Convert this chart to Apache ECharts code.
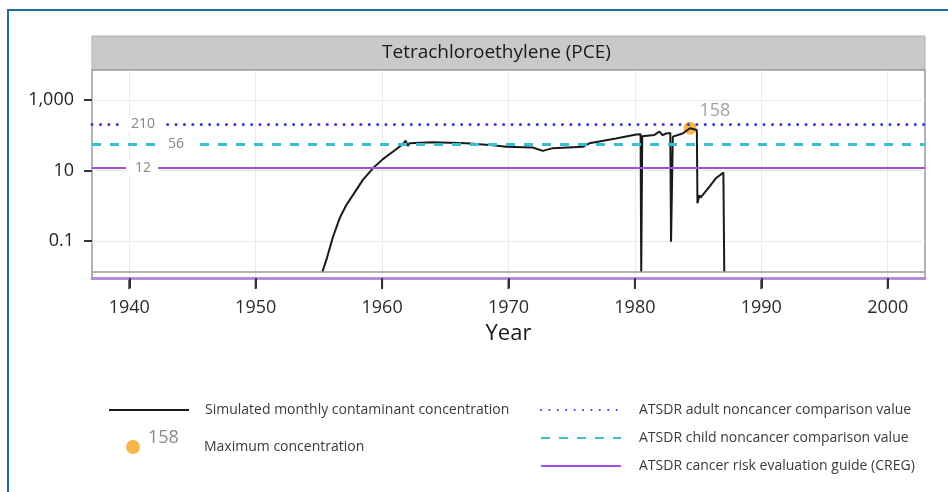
<!DOCTYPE html>
<html>
<head>
<meta charset="utf-8">
<script src="https://cdn.jsdelivr.net/npm/echarts@6/dist/echarts.min.js"></script>
<style>
  html, body { margin: 0; padding: 0; background: #fff; }
  #chart { width: 948px; height: 492px; }
</style>
</head>
<body>
<div id="chart"></div>
<script>
// simulated monthly PCE concentration (values at the panel floor are clipped)
const years = [1955.27, 1955.59, 1956.11, 1956.64, 1957.17, 1957.69, 1958.48, 1959.27, 1960.06, 1960.85,
  1961.64, 1961.86, 1962.04, 1962.17, 1964.0, 1966.66, 1968.76, 1969.82, 1971.92, 1972.71,
  1973.5, 1975.87, 1976.4, 1978.5, 1980.1, 1980.45, 1980.5, 1980.58, 1981.54, 1981.94,
  1982.2, 1982.47, 1982.8, 1982.86, 1983.0, 1983.78, 1984.36, 1984.9, 1984.95, 1985.1,
  1985.2, 1985.9, 1986.4, 1987.0, 1987.07]
const conc = [0.0132, 0.029, 0.13, 0.44, 1.05, 2.0, 5.4, 11.5, 21, 34,
  56, 70, 50, 59, 63, 59, 52, 47, 45, 36,
  43, 47, 59, 81, 105, 107, 0.0132, 93, 102, 126,
  100, 112, 115, 0.095, 91, 112, 158, 141, 1.17, 2.0,
  1.7, 3.5, 6.0, 8.7, 0.0132]
const maxPoint = [1984.36, 158]
const refNames = ['ATSDR adult noncancer comparison value', 'ATSDR child noncancer comparison value', 'ATSDR cancer risk evaluation guide (CREG)']
const refValues = [210, 56, 12]
const panelFloor = 0.0132
const xTicks = [1940, 1950, 1960, 1970, 1980, 1990, 2000]
const yTicks = [0.1, 10, 1000]

const font = 'Open Sans'
const refColors = ['#3d3dd6', '#3fbdd0', '#a24fe0']
const refDash = [[0.1, 8.3], [9, 9], 'solid']
const refCap = ['round', 'butt', 'butt']
// label gap placement (distance from axis start, padding around text)
const refLabelDist = [-74, -108, -66]
const refLabelPad = [[0, 11, 0, 7], [0, 16, 0, 13], [0, 7, 0, 9]]

const lg = v => Math.log10(v)
const yTickLogs = yTicks.map(lg)
const noSymbol = {color: 'rgba(0,0,0,0)', borderColor: 'rgba(0,0,0,0)', borderWidth: 0}
const xMin = 1937.05
const xMax = 2002.95
const yMin = -2.05
const yMax = 3.85

const chart = echarts.init(document.getElementById('chart'))

const refSeries = refValues.map((v, i) => ({
  name: refNames[i],
  type: 'line',
  data: [],
  symbol: 'none',
  lineStyle: {color: refColors[i], width: i === 2 ? 2 : 3, type: refDash[i], cap: refCap[i]},
  itemStyle: {color: refColors[i]},
  markLine: {
    silent: true,
    symbol: 'none',
    animation: false,
    lineStyle: {color: refColors[i], width: i === 2 ? 2 : 3, type: refDash[i], cap: refCap[i]},
    label: {
      show: true,
      position: 'start',
      distance: [refLabelDist[i], 0],
      formatter: String(v),
      color: '#858585',
      fontFamily: font,
      fontSize: 14,
      backgroundColor: '#fff',
      padding: refLabelPad[i]
    },
    data: [{yAxis: lg(v)}]
  }
}))

const option = {
  animation: false,
  title: {
    text: 'Tetrachloroethylene (PCE)',
    left: 382,
    top: 42,
    padding: 0,
    textStyle: {fontFamily: font, fontSize: 19, fontWeight: 'normal', color: '#1a1a1a', lineHeight: 22}
  },
  graphic: [
    {type: 'rect', z: -1, shape: {x: 8, y: 10, width: 980, height: 520}, style: {fill: 'none', stroke: '#1f6b9c', lineWidth: 2}},
    {type: 'rect', z: -1, shape: {x: 92, y: 36, width: 833, height: 34}, style: {fill: '#c9c9c9', stroke: '#b0b0b0', lineWidth: 1}}
  ],
  grid: {left: 92, right: 23, top: 70, bottom: 214, show: true, borderColor: '#9a9a9a', borderWidth: 1.5, backgroundColor: '#fff'},
  legend: [
    {
      data: ['Simulated monthly contaminant concentration'],
      left: 108, top: 403, padding: 0, itemWidth: 80, itemHeight: 14, selectedMode: false,
      itemStyle: noSymbol,
      formatter: n => '{t|' + n + '}',
      textStyle: {rich: {t: {fontFamily: font, fontSize: 14, color: '#3a3a3a', lineHeight: 20, padding: [0, 0, 0, 11]}}}
    },
    {
      data: ['Maximum concentration'],
      left: 126, top: 429, padding: 0, itemWidth: 14, itemHeight: 14, selectedMode: false,
      formatter: n => '{n|158}{t|' + n + '}',
      textStyle: {rich: {
        n: {fontFamily: font, fontSize: 18, color: '#888', lineHeight: 22, width: 56, padding: [0, 0, 18, 3]},
        t: {fontFamily: font, fontSize: 14, color: '#3a3a3a', lineHeight: 20, verticalAlign: 'middle'}
      }}
    },
    {
      data: refNames,
      orient: 'vertical',
      left: 540, top: 403, padding: 0, itemWidth: 80, itemHeight: 14, itemGap: 14, selectedMode: false,
      itemStyle: noSymbol,
      formatter: n => '{t|' + n + '}',
      textStyle: {rich: {t: {fontFamily: font, fontSize: 14, color: '#3a3a3a', lineHeight: 20, padding: [0, 0, 0, 13]}}}
    }
  ],
  xAxis: {
    type: 'value',
    min: xMin,
    max: xMax,
    name: 'Year',
    nameLocation: 'middle',
    nameGap: 45,
    nameTextStyle: {fontFamily: font, fontSize: 22, color: '#1a1a1a'},
    axisLine: {show: true, onZero: false, lineStyle: {color: '#b48fd9', width: 3}},
    axisTick: {show: true, customValues: xTicks, length: 10, lineStyle: {color: '#333', width: 2}},
    axisLabel: {customValues: xTicks, margin: 21, fontFamily: font, fontSize: 18, color: '#2b2b2b', formatter: v => String(v)},
    splitLine: {show: true, lineStyle: {color: '#ebebeb', width: 1}}
  },
  yAxis: {
    type: 'value',
    min: yMin,
    max: yMax,
    axisLine: {show: false, onZero: false},
    axisTick: {show: true, customValues: yTickLogs, length: 8, lineStyle: {color: '#333', width: 2}},
    axisLabel: {
      customValues: yTickLogs,
      margin: 18,
      fontFamily: font,
      fontSize: 18,
      color: '#222',
      formatter: v => {
        const t = yTicks.find(t => Math.abs(lg(t) - v) < 1e-6)
        return t === undefined ? '' : t.toLocaleString('en-US')
      }
    },
    splitLine: {show: true, lineStyle: {color: '#ebebeb', width: 1}}
  },
  series: [
    ...refSeries,
    {
      name: 'Simulated monthly contaminant concentration',
      type: 'line',
      symbol: 'none',
      data: years.map((y, i) => [y, lg(conc[i])]),
      lineStyle: {color: '#1a1a1a', width: 2},
      itemStyle: {color: '#333'},
      // bottom edge of the plotting panel
      markLine: {
        silent: true,
        symbol: 'none',
        animation: false,
        label: {show: false},
        lineStyle: {color: '#9a9a9a', width: 1.5, type: 'solid'},
        data: [{yAxis: lg(panelFloor)}]
      }
    },
    {
      name: 'Maximum concentration',
      type: 'scatter',
      symbol: 'circle',
      symbolSize: 13,
      itemStyle: {color: '#f6a21c'},
      data: [[maxPoint[0], lg(maxPoint[1])]],
      label: {
        show: true,
        formatter: String(maxPoint[1]),
        position: [16, -11],
        align: 'left',
        verticalAlign: 'middle',
        fontFamily: font,
        fontSize: 18,
        color: '#888'
      }
    }
  ]
}

chart.setOption(option)

// x tick marks placed through the axis scale (axisTick is not drawn at the grid edge here)
const axisY = chart.convertToPixel({yAxisIndex: 0}, yMin)
const tickMarks = xTicks.map(t => {
  const x = chart.convertToPixel({xAxisIndex: 0}, t)
  return {type: 'line', z: 100, silent: true, shape: {x1: x, y1: axisY + 2, x2: x, y2: axisY + 11}, style: {stroke: '#333', lineWidth: 2}}
})
option.graphic = option.graphic.concat(tickMarks)
chart.setOption(option)
</script>
</body>
</html>
